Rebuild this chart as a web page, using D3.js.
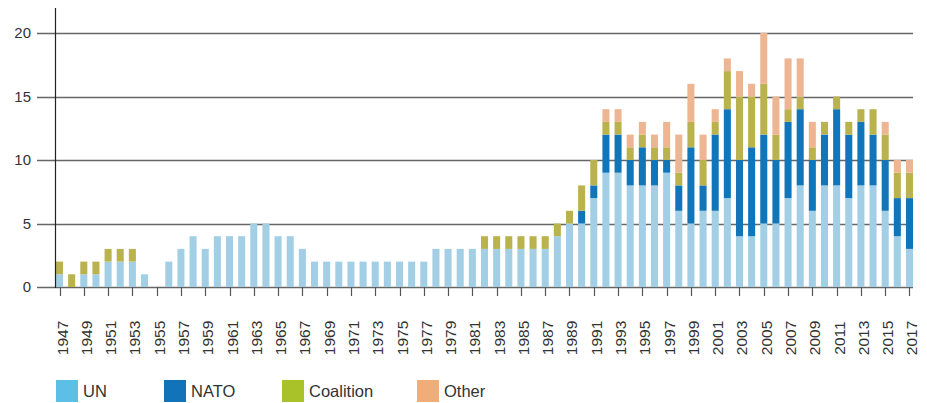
<!DOCTYPE html>
<html>
<head>
<meta charset="utf-8">
<script src="https://cdn.jsdelivr.net/npm/d3@7"></script>
<style>
  body { margin: 0; background: #fff; }
  svg { display: block; font-family: "Liberation Sans", Arial, sans-serif; }
</style>
</head>
<body>
<div id="chart"></div>
<script>
// Peace operations per year, by type
const years = d3.range(1947, 2018);
const un = [1,0,1,1,2,2,2,1,0,2,3,4,3,4,4,4,5,5,4,4,3,2,2,2,2,2,2,2,2,2,2,3,3,3,3,3,3,3,3,3,3,4,5,5,7,9,9,8,8,8,9,6,5,6,6,7,4,4,5,5,7,8,6,8,8,7,8,8,6,4,3];
const nato = [0,0,0,0,0,0,0,0,0,0,0,0,0,0,0,0,0,0,0,0,0,0,0,0,0,0,0,0,0,0,0,0,0,0,0,0,0,0,0,0,0,0,0,1,1,3,3,2,3,2,1,2,6,2,6,7,6,7,7,5,6,6,4,4,6,5,5,4,4,3,4];
const coalition = [1,1,1,1,1,1,1,0,0,0,0,0,0,0,0,0,0,0,0,0,0,0,0,0,0,0,0,0,0,0,0,0,0,0,0,1,1,1,1,1,1,1,1,2,2,1,1,1,1,1,1,1,2,2,1,3,5,4,4,2,1,1,1,1,1,1,1,2,2,2,2];
const other = [0,0,0,0,0,0,0,0,0,0,0,0,0,0,0,0,0,0,0,0,0,0,0,0,0,0,0,0,0,0,0,0,0,0,0,0,0,0,0,0,0,0,0,0,0,1,1,1,1,1,2,3,3,2,1,1,2,1,4,3,4,3,2,0,0,0,0,0,1,1,1];
const seriesNames = ["UN", "NATO", "Coalition", "Other"];
const yTicks = [0, 5, 10, 15, 20];
const xTickYears = years.filter(y => (y - 1947) % 2 === 0);

const barColors = { UN: "#a2cfe5", NATO: "#1176b9", Coalition: "#bab34d", Other: "#eeb592" };
const legendColors = { UN: "#5bbfe6", NATO: "#1173b8", Coalition: "#a9c22a", Other: "#f0ad7a" };

const W = 927, H = 403;
const x0 = 56, x1 = 913, yBase = 287, yTop = 33;

const table = years.map((yr, i) => ({ year: yr, UN: un[i], NATO: nato[i], Coalition: coalition[i], Other: other[i] }));
const stacked = d3.stack().keys(seriesNames)(table);

const x = d3.scaleBand().domain(years).range([x0, x1]).paddingInner(0.42).paddingOuter(0);
const y = d3.scaleLinear().domain([0, 20]).range([yBase, yTop]);

const svg = d3.select("#chart").append("svg").attr("width", W).attr("height", H);

// gridlines
svg.append("g").selectAll("line").data(yTicks).join("line")
  .attr("x1", 37).attr("x2", x1)
  .attr("y1", d => Math.round(y(d)) + 0.5).attr("y2", d => Math.round(y(d)) + 0.5)
  .attr("stroke", "#666").attr("stroke-width", 1.3);

svg.append("g").selectAll("text").data(yTicks).join("text")
  .attr("x", 31).attr("y", d => y(d) + 5)
  .attr("text-anchor", "end").attr("font-size", 15).attr("fill", "#333")
  .text(d => d);

// bars
svg.append("g").selectAll("g").data(stacked).join("g")
  .attr("fill", d => barColors[d.key])
  .selectAll("rect").data(d => d.filter(s => s[1] > s[0])).join("rect")
  .attr("x", d => x(d.data.year))
  .attr("width", x.bandwidth())
  .attr("y", d => y(d[1]))
  .attr("height", d => y(d[0]) - y(d[1]));

// y axis line
svg.append("line").attr("x1", 55.5).attr("x2", 55.5).attr("y1", 8).attr("y2", yBase + 1)
  .attr("stroke", "#222").attr("stroke-width", 1.2);

// x ticks and labels
const xt = svg.append("g").selectAll("g").data(xTickYears).join("g")
  .attr("transform", d => `translate(${Math.round(x(d) + x.bandwidth() / 2) + 0.5},0)`);
xt.append("line").attr("y1", yBase).attr("y2", yBase + 9).attr("stroke", "#555").attr("stroke-width", 1.2);
xt.append("text")
  .attr("transform", `translate(7,${yBase + 51}) rotate(-90)`)
  .attr("text-anchor", "middle").attr("font-size", 15.5).attr("fill", "#333")
  .text(d => d);

// legend
const legendX = [56, 164, 282, 417];
const lg = svg.append("g").selectAll("g").data(seriesNames).join("g")
  .attr("transform", (d, i) => `translate(${legendX[i]},380)`);
lg.append("rect").attr("width", 22).attr("height", 22).attr("fill", d => legendColors[d]);
lg.append("text").attr("x", 27).attr("y", 17).attr("font-size", 16.5).attr("fill", "#333").text(d => d);
</script>
</body>
</html>
